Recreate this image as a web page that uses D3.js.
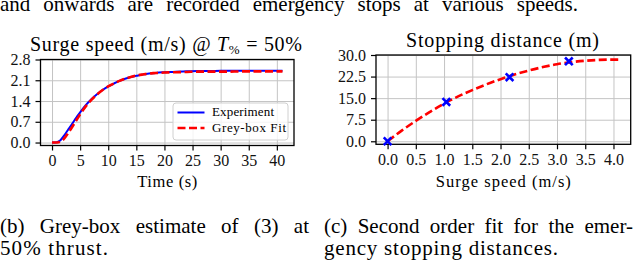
<!DOCTYPE html>
<html>
<head>
<meta charset="utf-8">
<script src="https://cdn.jsdelivr.net/npm/d3@7"></script>
</head>
<body style="margin:0; background:#fff">
<div id="chart"></div>
<script>
  "use strict";

  // (b) surge speed step response
  var timeS = [0, 0.5, 1, 1.5, 2, 2.5, 3, 3.5, 4, 4.5, 5, 6, 7, 8, 9, 10, 11, 12, 13, 14, 15, 16, 17, 18, 19, 20, 22, 24, 26, 28, 30, 35, 41];
  var experimentSpeed = [0, 0, 0.02, 0.08, 0.2, 0.33, 0.47, 0.61, 0.75, 0.89, 1.02, 1.26, 1.46, 1.63, 1.77, 1.89, 1.99, 2.08, 2.15, 2.21, 2.25, 2.29, 2.32, 2.34, 2.36, 2.37, 2.39, 2.40, 2.41, 2.41, 2.42, 2.42, 2.42];
  var fitSpeed = [0, 0, 0, 0.03, 0.1, 0.22, 0.36, 0.5, 0.65, 0.8, 0.95, 1.22, 1.44, 1.62, 1.77, 1.89, 1.99, 2.08, 2.15, 2.21, 2.26, 2.29, 2.32, 2.34, 2.35, 2.36, 2.37, 2.38, 2.39, 2.39, 2.39, 2.40, 2.40];
  var timeTicks = [0, 5, 10, 15, 20, 25, 30, 35, 40];
  var speedTicks = [0, 0.7, 1.4, 2.1, 2.8];

  // (c) stopping distances
  var stopSpeed = [0, 1.04, 2.16, 3.21];
  var stopDist = [0, 13.7, 22.3, 27.8];
  var curveSpeed = [0, 0.25, 0.5, 0.75, 1.0, 1.25, 1.5, 1.75, 2.0, 2.25, 2.5, 2.75, 3.0, 3.25, 3.5, 3.75, 4.0, 4.1];
  var curveDist = [0, 3.7, 7.1, 10.2, 13.1, 15.6, 17.8, 19.8, 21.6, 23.2, 24.6, 25.8, 26.8, 27.5, 28.0, 28.3, 28.4, 28.4];
  var surgeTicks = [0, 0.5, 1, 1.5, 2, 2.5, 3, 3.5, 4];
  var distTicks = [0, 7.5, 15, 22.5, 30];

  var serif = "'Liberation Serif'";

  var svg = d3.select("#chart")
    .append("svg")
    .attr("width", 640)
    .attr("height", 265)
    .style("font-family", serif);

  svg.append("rect").attr("width", 640).attr("height", 265).attr("fill", "#fff");

  // stretch a text to a measured width
  function fit(sel, w) {
    return sel.style("font-family", serif).attr("textLength", w).attr("lengthAdjust", "spacing");
  }

  // justified line: widen the word gaps only
  function justify(sel, w) {
    sel.style("font-family", serif);
    var natural = sel.node().getComputedTextLength();
    var gaps = sel.text().split(" ").length - 1;
    if (w > natural && gaps > 0) {
      sel.attr("word-spacing", (w - natural) / gaps);
    } else {
      fit(sel, w);
    }
    return sel;
  }

  function panel(o) {
    var g = svg.append("g");
    var x = d3.scaleLinear().domain(o.xDomain).range(o.xRange);
    var y = d3.scaleLinear().domain(o.yDomain).range(o.yRange);
    var w = o.xRange[1] - o.xRange[0];
    var h = o.yRange[0] - o.yRange[1];

    // grid
    g.append("g")
      .attr("transform", "translate(0," + o.yRange[0] + ")")
      .call(d3.axisBottom(x).tickValues(o.xTicks).tickSize(-h).tickFormat(""))
      .call(function (s) { s.select(".domain").remove(); s.selectAll("line").attr("stroke", "#c4c4c4").attr("stroke-width", 1); });
    g.append("g")
      .attr("transform", "translate(" + o.xRange[0] + ",0)")
      .call(d3.axisLeft(y).tickValues(o.yTicks).tickSize(-w).tickFormat(""))
      .call(function (s) { s.select(".domain").remove(); s.selectAll("line").attr("stroke", "#c4c4c4").attr("stroke-width", 1); });

    // axes
    var xa = g.append("g")
      .attr("transform", "translate(0," + o.yRange[0] + ")")
      .call(d3.axisBottom(x).tickValues(o.xTicks).tickFormat(o.xFormat).tickSize(5).tickPadding(4).tickSizeOuter(0));
    var ya = g.append("g")
      .attr("transform", "translate(" + o.xRange[0] + ",0)")
      .call(d3.axisLeft(y).tickValues(o.yTicks).tickFormat(o.yFormat).tickSize(5).tickPadding(5).tickSizeOuter(0));
    [xa, ya].forEach(function (a) {
      a.attr("font-family", null);
      a.select(".domain").remove();
      a.selectAll("line").attr("stroke", "#000").attr("stroke-width", 1.2);
      a.selectAll("text").attr("font-size", 16).attr("fill", "#111").style("font-family", serif);
    });

    g.append("rect")
      .attr("x", o.xRange[0]).attr("y", o.yRange[1])
      .attr("width", w).attr("height", h)
      .attr("fill", "none").attr("stroke", "#000").attr("stroke-width", 1.3);

    var clipId = "clip" + Math.round(o.xRange[0]);
    g.append("clipPath").attr("id", clipId)
      .append("rect")
      .attr("x", o.xRange[0]).attr("y", o.yRange[1])
      .attr("width", w).attr("height", h);

    var plot = g.append("g").attr("clip-path", "url(#" + clipId + ")");

    fit(g.append("text")
      .attr("x", (o.xRange[0] + o.xRange[1]) / 2)
      .attr("y", o.xLabelY)
      .attr("text-anchor", "middle")
      .attr("font-size", 16.5)
      .text(o.xLabel), o.xLabelW);

    return { g: g, plot: plot, x: x, y: y };
  }

  // Panel (b)
  var pb = panel({
    xDomain: [-2.05, 43.05], xRange: [40.5, 294],
    yDomain: [-0.1, 2.8], yRange: [145.5, 59.5],
    xTicks: timeTicks, yTicks: speedTicks,
    xFormat: d3.format("d"), yFormat: d3.format(".1f"),
    xLabel: "Time (s)", xLabelY: 187, xLabelW: 60
  });

  var lineB = function (vals) {
    return d3.line()
      .x(function (d, i) { return pb.x(timeS[i]); })
      .y(function (d) { return pb.y(d); })
      .curve(d3.curveMonotoneX)(vals);
  };

  pb.plot.append("path")
    .attr("d", lineB(experimentSpeed))
    .attr("fill", "none").attr("stroke", "#0000ff").attr("stroke-width", 2);
  pb.plot.append("path")
    .attr("d", lineB(fitSpeed))
    .attr("fill", "none").attr("stroke", "#ff0000").attr("stroke-width", 2.6)
    .attr("stroke-dasharray", "8,3.5");

  // Legend
  var legend = pb.g.append("g");
  legend.append("rect")
    .attr("x", 173).attr("y", 103).attr("width", 115).attr("height", 37)
    .attr("rx", 3).attr("fill", "#fff").attr("fill-opacity", 0.8)
    .attr("stroke", "#d0d0d0").attr("stroke-width", 1);
  var legendItems = [
    { label: "Experiment", color: "#0000ff", dash: null, w: 2, tw: 62 },
    { label: "Grey-box Fit", color: "#ff0000", dash: "8,3.5", w: 2.6, tw: 74 }
  ];
  legendItems.forEach(function (d, i) {
    var cy = 112.5 + i * 15.5;
    legend.append("line")
      .attr("x1", 177.5).attr("x2", 204.5).attr("y1", cy).attr("y2", cy)
      .attr("stroke", d.color).attr("stroke-width", d.w)
      .attr("stroke-dasharray", d.dash);
    fit(legend.append("text")
      .attr("x", 212).attr("y", cy + 3.8)
      .attr("font-size", 13)
      .text(d.label), d.tw);
  });

  // Title (b)
  var tb = svg.append("text")
    .attr("x", 30).attr("y", 50.5)
    .attr("font-size", 20);
  tb.append("tspan").text("Surge speed (m/s) @ ");
  tb.append("tspan").attr("font-style", "italic").text("T");
  tb.append("tspan").attr("font-size", 13).attr("dy", 3.5).text("%");
  tb.append("tspan").attr("dy", -3.5).text(" = 50%");
  fit(tb, 272);

  // Panel (c)
  var pc = panel({
    xDomain: [-0.205, 4.305], xRange: [376, 630.7],
    yDomain: [-1.05, 30], yRange: [144.3, 55],
    xTicks: surgeTicks, yTicks: distTicks,
    xFormat: d3.format(".1f"), yFormat: d3.format(".1f"),
    xLabel: "Surge speed (m/s)", xLabelY: 187, xLabelW: 135
  });

  pc.plot.append("path")
    .attr("d", d3.line()
      .x(function (d, i) { return pc.x(curveSpeed[i]); })
      .y(function (d) { return pc.y(d); })
      .curve(d3.curveMonotoneX)(curveDist))
    .attr("fill", "none").attr("stroke", "#ff0000").attr("stroke-width", 2.6)
    .attr("stroke-dasharray", "8,3.5");

  pc.g.selectAll(".mark")
    .data(stopDist)
    .enter()
    .append("path")
    .attr("class", "mark")
    .attr("transform", function (d, i) { return "translate(" + pc.x(stopSpeed[i]) + "," + pc.y(d) + ")"; })
    .attr("d", d3.symbol(d3.symbolTimes).size(40))
    .attr("fill", "none").attr("stroke", "#0000ff").attr("stroke-width", 2.6);

  fit(svg.append("text")
    .attr("x", 406).attr("y", 46.5)
    .attr("font-size", 20)
    .text("Stopping distance (m)"), 193);

  // Surrounding paper text
  justify(svg.append("text")
    .attr("x", 0).attr("y", 10.5)
    .attr("font-size", 21)
    .text("and onwards are recorded emergency stops at various speeds."), 578);

  var captions = [
    { x: 0, y: 233, text: "(b) Grey-box estimate of (3) at", w: 309, just: true },
    { x: 0, y: 255, text: "50% thrust.", w: 108, just: false },
    { x: 324, y: 233, text: "(c) Second order fit for the emer-", w: 309, just: true },
    { x: 324, y: 255, text: "gency stopping distances.", w: 234, just: false }
  ];
  captions.forEach(function (c) {
    var t = svg.append("text")
      .attr("x", c.x).attr("y", c.y)
      .attr("font-size", 21)
      .text(c.text);
    if (c.just) justify(t, c.w); else fit(t, c.w);
  });
</script>
</body>
</html>
